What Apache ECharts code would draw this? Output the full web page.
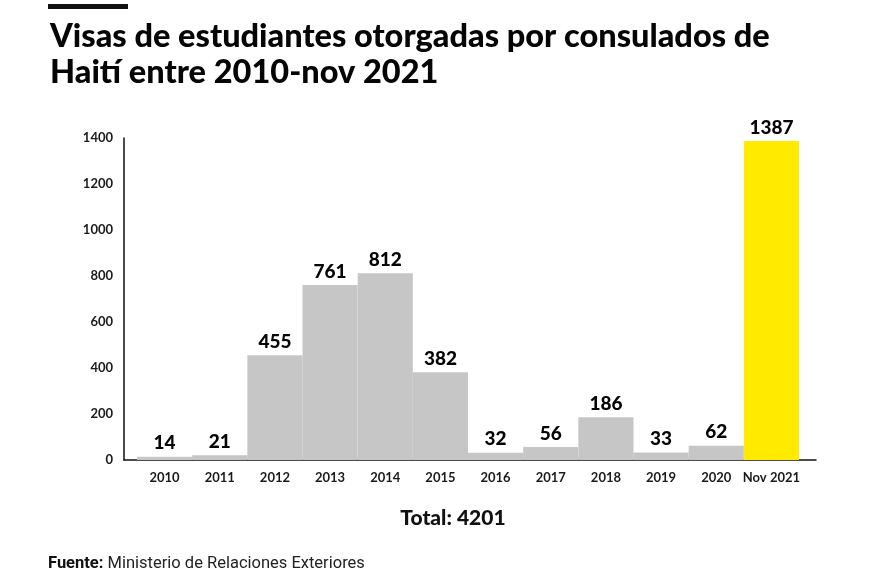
<!DOCTYPE html>
<html>
<head>
<meta charset="utf-8">
<script src="https://cdn.jsdelivr.net/npm/echarts@6/dist/echarts.min.js"></script>
<style>
html,body{margin:0;padding:0;background:#fff;}
#c{width:894px;height:573px;}
</style>
</head>
<body>
<div id="c"></div>
<script>
const categories = ['2010','2011','2012','2013','2014','2015','2016','2017','2018','2019','2020','Nov 2021'];
const values = [14, 21, 455, 761, 812, 382, 32, 56, 186, 33, 62, 1387];
const yTicks = [0, 200, 400, 600, 800, 1000, 1200, 1400];
const titleText = 'Visas de estudiantes otorgadas por consulados de\nHaití entre 2010-nov 2021';
const totalText = 'Total: 4201';
const sourceBold = 'Fuente:';
const sourceText = ' Ministerio de Relaciones Exteriores';

const chart = echarts.init(document.getElementById('c'));
const grayC = '#c6c6c6', yellowC = '#ffea00';
chart.setOption({
  animation: false,
  backgroundColor: '#fff',
  title: [{
    text: titleText,
    left: 45, top: 14,
    textStyle: {fontFamily: 'Lato', fontWeight: 900, fontSize: 32.5, color: '#050505', lineHeight: 36}
  }, {
    text: totalText,
    left: 448, top: 503, textAlign: 'center',
    textStyle: {fontFamily: 'Lato', fontWeight: 900, fontSize: 21, color: '#111'}
  }, {
    text: '{b|' + sourceBold + '}{n|' + sourceText + '}',
    left: 43, top: 550,
    textStyle: {rich: {
      b: {fontFamily: 'Roboto', fontWeight: 'bold', fontSize: 16.5, color: '#111'},
      n: {fontFamily: 'Roboto', fontWeight: 'normal', fontSize: 16.5, color: '#222'}
    }}
  }],
  graphic: [{
    type: 'rect', left: 48, top: 4, shape: {width: 80, height: 5}, style: {fill: '#111'}
  }],
  grid: [
    {left: 137, right: 95, top: 138, bottom: 113},
    {left: 124, right: 78, top: 138, bottom: 113}
  ],
  xAxis: [{
    type: 'category', data: categories, gridIndex: 0,
    axisLine: {show: false}, axisTick: {show: false},
    axisLabel: {fontFamily: 'Lato', fontWeight: 'bold', fontSize: 13, color: '#1a1a1a', margin: 11, interval: 0}
  }, {
    type: 'value', gridIndex: 1, min: 0, max: 1,
    axisLine: {show: true, lineStyle: {color: '#111', width: 1.5}},
    axisTick: {show: false}, axisLabel: {show: false}, splitLine: {show: false}
  }],
  yAxis: [{
    type: 'value', gridIndex: 0, min: 0, max: 1400, interval: 200, offset: 13,
    axisLine: {show: true, onZero: false, lineStyle: {color: '#111', width: 1.5}},
    axisTick: {show: false}, splitLine: {show: false},
    axisLabel: {fontFamily: 'Lato', fontWeight: 'bold', fontSize: 13, color: '#1a1a1a', margin: 11,
      formatter: v => yTicks.includes(v) ? String(v) : ''}
  }, {
    type: 'value', gridIndex: 1, min: 0, max: 1400, show: false
  }],
  series: [{
    type: 'bar', xAxisIndex: 0, yAxisIndex: 0,
    data: values.map((v, i) => ({value: v, itemStyle: {color: i === values.length - 1 ? yellowC : grayC}})),
    barCategoryGap: '0%',
    label: {show: true, position: 'top', distance: 4, fontFamily: 'Lato', fontWeight: 900, fontSize: 19, color: '#050505'}
  }]
});
</script>
</body>
</html>
